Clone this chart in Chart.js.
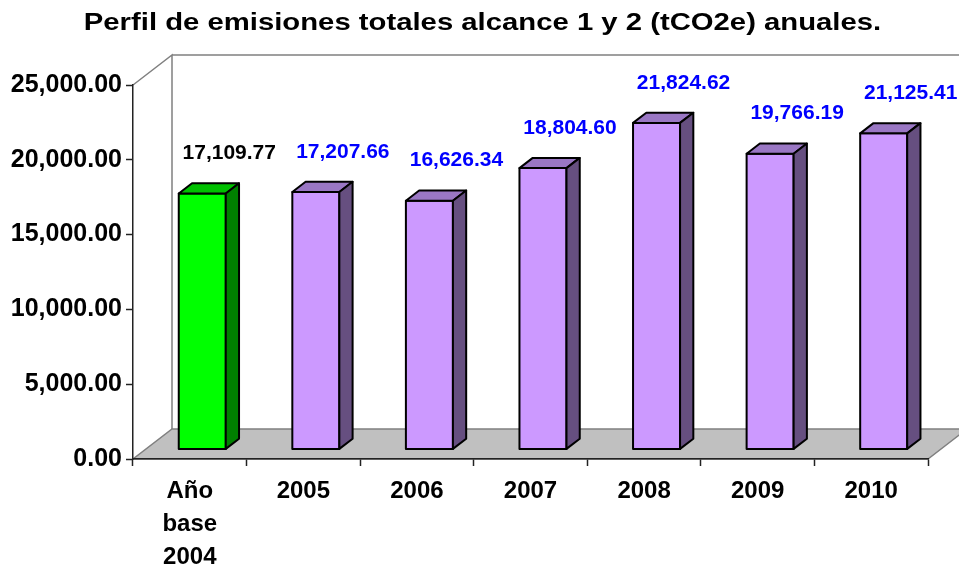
<!DOCTYPE html>
<html>
<head>
<meta charset="utf-8">
<title>Perfil de emisiones</title>
<script src="https://cdn.jsdelivr.net/npm/chart.js@4"></script>
<style>
	html, body { margin: 0; padding: 0; background: #fff; }
	#chart { display: block; }
</style>
</head>
<body>
<canvas id="chart" width="959" height="568"></canvas>
<script>
// Chart data.
var categories = [['Año', 'base', '2004'], '2005', '2006', '2007', '2008', '2009', '2010'];
var emissions = [17109.77, 17207.66, 16626.34, 18804.60, 21824.62, 19766.19, 21125.41];
var yTicks = [0, 5000, 10000, 15000, 20000, 25000];
var titleText = 'Perfil de emisiones totales alcance 1 y 2 (tCO2e) anuales.';

var fontFamily = '"Liberation Sans", Arial, sans-serif';

// 3D look: depth of the floor / walls, bars sit in the middle of it.
var depth = { x: 39, y: -30 };
var barFront = 0.32, barBack = 0.66;

var faces = {
	base: { front: '#00ff00', top: '#00c000', side: '#008000', label: '#000000' },
	year: { front: '#cc99ff', top: '#9a77c4', side: '#664f80', label: '#0000ff' }
};

var formatNumber = function(v) {
	return v.toLocaleString('en-US', { minimumFractionDigits: 2, maximumFractionDigits: 2 });
};

var poly = function(ctx, pts, fill) {
	ctx.beginPath();
	ctx.moveTo(pts[0][0], pts[0][1]);
	for (var i = 1; i < pts.length; i++) {
		ctx.lineTo(pts[i][0], pts[i][1]);
	}
	ctx.closePath();
	ctx.fillStyle = fill;
	ctx.fill();
	ctx.stroke();
};

var bar3d = {
	id: 'bar3d',
	// Floor and walls, under the axes.
	beforeDraw: function(chart) {
		var ctx = chart.ctx, a = chart.chartArea;

		ctx.save();
		ctx.strokeStyle = '#808080';
		ctx.lineWidth = 1.5;

		poly(ctx, [
			[a.left, a.bottom],
			[a.right, a.bottom],
			[a.right + depth.x, a.bottom + depth.y],
			[a.left + depth.x, a.bottom + depth.y]
		], '#c0c0c0');

		ctx.beginPath();
		ctx.moveTo(a.left, a.top);
		ctx.lineTo(a.left + depth.x, a.top + depth.y);
		ctx.lineTo(a.left + depth.x, a.bottom + depth.y);
		ctx.moveTo(a.left + depth.x, a.top + depth.y);
		ctx.lineTo(a.right + depth.x, a.top + depth.y);
		ctx.stroke();
		ctx.restore();
	},
	// Bars from the bar elements positions, then value labels.
	afterDatasetsDraw: function(chart) {
		var ctx = chart.ctx;
		var meta = chart.getDatasetMeta(0);
		var fx = depth.x * barFront, fy = depth.y * barFront;
		var bx = depth.x * (barBack - barFront), by = depth.y * (barBack - barFront);

		ctx.save();
		ctx.strokeStyle = '#000';
		ctx.lineWidth = 2;
		ctx.lineJoin = 'round';

		meta.data.forEach(function(bar, i) {
			var p = bar.getProps(['x', 'y', 'base', 'width'], true);
			var c = i === 0 ? faces.base : faces.year;
			var l = p.x - p.width / 2 + fx, r = p.x + p.width / 2 + fx;
			var t = p.y + fy, b = p.base + fy;

			poly(ctx, [[l, b], [r, b], [r, t], [l, t]], c.front);
			poly(ctx, [[l, t], [r, t], [r + bx, t + by], [l + bx, t + by]], c.top);
			poly(ctx, [[r, b], [r + bx, b + by], [r + bx, t + by], [r, t]], c.side);

			// Value label, up and right of the bar like in Excel 3D charts.
			ctx.font = 'bold 21px ' + fontFamily;
			ctx.textAlign = 'center';
			ctx.textBaseline = 'middle';
			ctx.fillStyle = c.label;
			ctx.fillText(formatNumber(emissions[i]), p.x + fx + 27, t - 40);
		});

		ctx.restore();
	},
	// Title, a bit wider than plain Arial.
	afterDraw: function(chart) {
		var ctx = chart.ctx;

		ctx.save();
		ctx.translate(chart.width / 2 + 3, 30);
		ctx.scale(1.22, 1);
		ctx.font = 'bold 24px ' + fontFamily;
		ctx.textAlign = 'center';
		ctx.textBaseline = 'alphabetic';
		ctx.fillStyle = '#000';
		ctx.fillText(titleText, 0, 0);
		ctx.restore();
	}
};

var chart = new Chart(document.getElementById('chart').getContext('2d'), {
	type: 'bar',
	data: {
		labels: categories,
		datasets: [{
			data: emissions,
			backgroundColor: 'rgba(0,0,0,0)',
			borderWidth: 0,
			categoryPercentage: 1,
			barPercentage: 0.414
		}]
	},
	options: {
		responsive: false,
		animation: false,
		events: [],
		layout: {
			padding: { top: 85, right: 31, left: 0, bottom: 0 }
		},
		plugins: {
			legend: { display: false },
			title: { display: false },
			tooltip: { enabled: false }
		},
		scales: {
			x: {
				afterFit: function(scale) { scale.height = 109; },
				border: { display: true, color: '#222', width: 1.5 },
				grid: {
					offset: true,
					drawOnChartArea: false,
					drawTicks: true,
					tickLength: 7,
					tickColor: '#222',
					tickWidth: 1.5
				},
				ticks: {
					color: '#000',
					maxRotation: 0,
					autoSkip: false,
					padding: 8.5,
					font: { family: fontFamily, size: 24, weight: 'bold', lineHeight: 1.375 }
				}
			},
			y: {
				min: yTicks[0],
				max: yTicks[yTicks.length - 1],
				afterFit: function(scale) { scale.width = 133; },
				border: { display: true, color: '#222', width: 1.5 },
				grid: {
					drawOnChartArea: false,
					drawTicks: true,
					tickLength: 7,
					tickColor: '#222',
					tickWidth: 1.5
				},
				ticks: {
					stepSize: yTicks[1] - yTicks[0],
					color: '#000',
					padding: 4,
					font: { family: fontFamily, size: 25, weight: 'bold' },
					callback: function(value) { return formatNumber(value); }
				}
			}
		}
	},
	plugins: [bar3d]
});
</script>
</body>
</html>
